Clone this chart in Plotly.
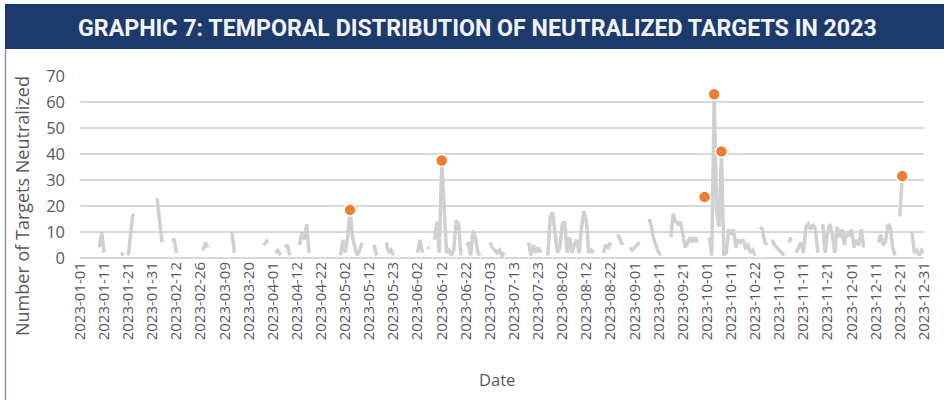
import pandas as pd
import plotly.graph_objects as go

N = None

# Dates that are absent from the category axis (the axis is a category axis of dates)
MISSING_DATES = ["2023-02-04", "2023-02-05", "2023-02-14", "2023-02-18", "2023-02-19",
                 "2023-02-25", "2023-03-05", "2023-03-12", "2023-03-25", "2023-03-26",
                 "2023-04-08", "2023-05-20", "2023-06-25", "2023-10-15"]
ALL_DAYS = pd.date_range("2023-01-01", "2023-12-31", freq="D").strftime("%Y-%m-%d").tolist()
DATES = [d for d in ALL_DAYS if d not in MISSING_DATES]

TICK_LABELS = ["2023-01-01", "2023-01-11", "2023-01-21", "2023-01-31", "2023-02-12", "2023-02-26",
               "2023-03-09", "2023-03-20", "2023-04-01", "2023-04-12", "2023-04-22", "2023-05-02",
               "2023-05-12", "2023-05-23", "2023-06-02", "2023-06-12", "2023-06-22", "2023-07-03",
               "2023-07-13", "2023-07-23", "2023-08-02", "2023-08-12", "2023-08-22", "2023-09-01",
               "2023-09-11", "2023-09-21", "2023-10-01", "2023-10-11", "2023-10-22", "2023-11-01",
               "2023-11-11", "2023-11-21", "2023-12-01", "2023-12-11", "2023-12-21", "2023-12-31"]

# Number of neutralized targets per category (None = blank, drawn as a gap)
VALUES = [
    N, N, N, N, N, N, N, N, 4, 10,
    2, N, N, N, N, N, N, 1, 2, N,
    1, 9, 17, N, N, N, N, N, N, N,
    N, N, 23, 14, 6, N, N, N, 7, 7,
    2, N, N, N, N, N, N, N, N, N,
    N, 3, 6, 4, N, N, N, N, N, N,
    N, N, N, 10, 2, N, N, N, N, N,
    N, N, N, N, N, N, 5, 6, 7, N,
    N, 2, 3, 1, N, 4, 5, 1, N, N,
    N, 5, 10, 7, 13, 2, N, N, N, N,
    N, N, N, N, N, N, N, N, 1, 7,
    2, 8, 18.5, 8, 4, 1, 3, 6, N, N,
    N, N, 5, 1, N, N, N, 6, 2, 3,
    1, N, N, N, N, N, N, N, N, N,
    2, 7, 2, N, 4, 4, N, 7, 14, 2,
    37.5, 20, 2, 3, 1, 3, 14.5, 13, 1, N,
    5, 5.5, 1, 10.5, 8, 2, 1, N, N, N,
    6, 4, 3, 2, 3, 1, 2, N, N, N,
    N, N, N, N, N, N, 6, 1, 5, 2,
    4, 2, N, N, 1, 16, 17.5, 10.5, 2, 4,
    13, 14, 2, 8, 2, 5, 7, 2, 12, 18,
    14, 2, 3, 2, N, N, N, 2, 5, 4,
    6, N, N, 9, 7, 5, N, N, 4, 3,
    4, 5, 6, N, N, N, 15, 12, 7, 4,
    2, 1, N, N, N, 8, 17, 14, 13, 14,
    8, 4, 6, 8, 6, 8, 6, N, N, 23.5,
    N, 8, 1, 63, 18, 12, 41, 1, 2, 11,
    9, 11, 4, 7, 6, 7, 4, 5, 2, 3,
    1, N, 12, 11, 6, 5, N, 7, 5, 4,
    3, 2, 1, N, 6, 8, N, 2, 4, 6,
    2, 12, 13, 11, 13, 11, 2, N, 13, 2,
    10, 13, 9, 2, 12, 8, 11, 5, 10, 9,
    11, 4, 7, 5, 11, 4, N, N, N, N,
    N, 6, 9, 5, 6, 13, 12, 4, 1, N,
    16, 31.5, N, N, N, 10, 2, 3, 1, 3,
    2,
]

HIGHLIGHT_DATES = ["2023-05-04", "2023-06-12", "2023-09-30", "2023-10-04", "2023-10-07", "2023-12-22"]
HIGHLIGHT_VALUES = [VALUES[DATES.index(d)] for d in HIGHLIGHT_DATES]

Y_TICKS = [0, 10, 20, 30, 40, 50, 60, 70]

TITLE = "GRAPHIC 7: TEMPORAL DISTRIBUTION OF NEUTRALIZED TARGETS IN 2023"

W, H = 944, 400
ML, MR, MT, MB = 80, 20, 76, 142
PW, PH = W - ML - MR, H - MT - MB


def px_x(px):
    return (px - ML) / PW


def px_y(py):
    return (H - MB - py) / PH


GRAY = "#595959"
FONT = "Open Sans, Lato, sans-serif"

fig = go.Figure()
fig.add_trace(go.Scatter(
    x=DATES, y=VALUES, mode="lines", connectgaps=False,
    line=dict(color="#d0d0d0", width=3.5), hoverinfo="x+y", showlegend=False,
))
fig.add_trace(go.Scatter(
    x=HIGHLIGHT_DATES, y=HIGHLIGHT_VALUES, mode="markers",
    marker=dict(color="#ED7D31", size=12, line=dict(color="white", width=1.5)),
    cliponaxis=False, showlegend=False,
))

fig.update_layout(
    width=W, height=H,
    margin=dict(l=ML, r=MR, t=MT, b=MB),
    paper_bgcolor="white", plot_bgcolor="white",
    font=dict(family=FONT, color=GRAY),
    xaxis=dict(
        type="category", categoryorder="array", categoryarray=DATES,
        range=[0, len(DATES) - 1],
        tickmode="array", tickvals=TICK_LABELS, ticktext=TICK_LABELS,
        tickangle=-90, tickfont=dict(size=15, color=GRAY, family=FONT),
        showgrid=False, zeroline=False, showline=False, ticks="",
    ),
    yaxis=dict(
        range=[0, 70], tickvals=Y_TICKS,
        tickfont=dict(size=16.5, color=GRAY, family=FONT),
        showgrid=True, gridcolor="#d9d9d9", gridwidth=2,
        zeroline=True, zerolinecolor="#d9d9d9", zerolinewidth=2,
        showline=False, ticks="", ticklabelstandoff=14,
    ),
    shapes=[
        dict(type="rect", xref="paper", yref="paper",
             x0=px_x(5), x1=px_x(950), y0=px_y(49), y1=px_y(4),
             fillcolor="#1c3a6c", line=dict(width=0), layer="above"),
        dict(type="line", xref="paper", yref="paper",
             x0=px_x(5.5), x1=px_x(5.5), y0=px_y(49), y1=px_y(402),
             line=dict(color="#8797b3", width=1.5)),
    ],
    annotations=[
        dict(text="<b>" + TITLE + "</b>", xref="paper", yref="paper",
             x=px_x(477), y=px_y(28), xanchor="center", yanchor="middle", showarrow=False,
             font=dict(family="Roboto, sans-serif", size=23.2, color="#f2f4f8")),
        dict(text="Number of Targets Neutralized", xref="paper", yref="paper",
             x=px_x(22), y=px_y(206), xanchor="center", yanchor="middle", showarrow=False,
             textangle=-90, font=dict(family=FONT, size=18, color=GRAY)),
        dict(text="Date", xref="paper", yref="paper",
             x=px_x(497), y=px_y(380), xanchor="center", yanchor="middle", showarrow=False,
             font=dict(family=FONT, size=16.5, color=GRAY)),
    ],
)

fig.write_html("out.html", config={"displayModeBar": False},
               post_script="document.body.style.margin='0px';")
